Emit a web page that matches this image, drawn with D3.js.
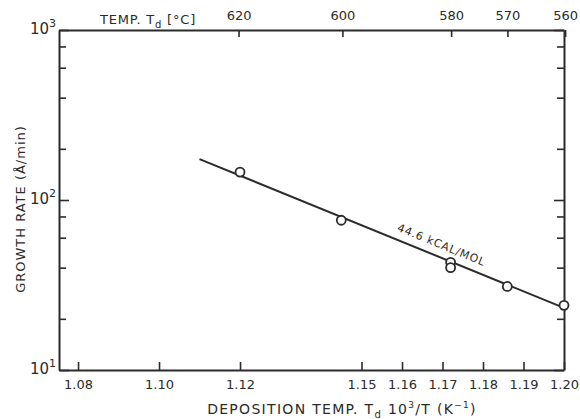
<!DOCTYPE html>
<html>
<head>
<meta charset="utf-8">
<script src="https://cdn.jsdelivr.net/npm/d3@7/dist/d3.min.js"></script>
<style>
  html, body { margin: 0; padding: 0; background: #fff; }
  svg { display: block; }
  text { font-family: "DejaVu Sans", sans-serif; fill: #2b2b2b; }
  .domain { stroke: #2b2b2b; stroke-width: 2; }
  .tick line { stroke: #2b2b2b; stroke-width: 1.6; }
</style>
</head>
<body>
<svg id="chart" width="580" height="419"></svg>
<script>
// Reciprocal deposition temperature, 10^3/T (K^-1)
const invTemp = [1.12, 1.145, 1.172, 1.172, 1.186, 1.2];
// Growth rate (Å/min)
const growthRate = [146, 76, 43, 40, 31, 24];
// Arrhenius fit line end points
const fitInvTemp = [1.11, 1.20];
const fitRate = [174, 23.2];
const fitLabel = "44.6 kCAL/MOL";
// Axis ticks
const bottomTicks = [1.08, 1.10, 1.12, 1.15, 1.16, 1.17, 1.18, 1.19, 1.20];
const topTicksC = [620, 600, 580, 570, 560];
const majorRate = [10, 100, 1000];
const minorRate = [20, 40, 60, 80, 200, 400, 600, 800];

const svg = d3.select("#chart");
const mLeft = 59, mRight = 564, mTop = 30, mBottom = 370;

const x = d3.scaleLinear().domain([1.0753, 1.2]).range([mLeft, mRight]);
const y = d3.scaleLog().domain([10, 1000]).range([mBottom, mTop]);

// bottom axis (ticks point inward)
const gB = svg.append("g").attr("transform", `translate(0,${mBottom})`)
  .call(d3.axisBottom(x).tickValues(bottomTicks).tickSize(-8).tickSizeOuter(0)
    .tickPadding(10).tickFormat(d3.format(".2f")));
gB.selectAll("text").attr("font-size", 13);

// top axis in °C
const gT = svg.append("g").attr("transform", `translate(0,${mTop})`)
  .call(d3.axisTop(x).tickValues(topTicksC.map(c => 1000 / (c + 273.15)))
    .tickSize(-7).tickSizeOuter(0).tickPadding(10)
    .tickFormat((d, i) => topTicksC[i]));
gT.selectAll("text").attr("font-size", 13);

// left and right log axes: major and minor ticks, labels drawn separately
[[d3.axisLeft, mLeft], [d3.axisRight, mRight]].forEach(([ax, px]) => {
  svg.append("g").attr("transform", `translate(${px},0)`)
    .call(ax(y).tickValues(majorRate).tickSize(-10).tickSizeOuter(0).tickFormat(""));
  svg.append("g").attr("transform", `translate(${px},0)`)
    .call(ax(y).tickValues(minorRate).tickSize(-7).tickSizeOuter(0).tickFormat(""))
    .select(".domain").remove();
});

// decade labels 10^n
majorRate.forEach(v => {
  const t = svg.append("text").attr("x", mLeft - 3).attr("y", y(v) + 4)
    .attr("text-anchor", "end").attr("font-size", 15);
  t.append("tspan").text("10");
  t.append("tspan").attr("dy", -7).attr("font-size", 11).text(Math.round(Math.log10(v)));
});

// fit line
svg.append("line")
  .attr("x1", x(fitInvTemp[0])).attr("y1", y(fitRate[0]))
  .attr("x2", x(fitInvTemp[1])).attr("y2", y(fitRate[1]))
  .attr("stroke", "#2b2b2b").attr("stroke-width", 2);

// measured points
svg.append("g").selectAll("circle")
  .data(invTemp.map((t, i) => [t, growthRate[i]]))
  .join("circle")
  .attr("cx", d => x(d[0])).attr("cy", d => y(d[1])).attr("r", 4.5)
  .attr("fill", "#fff").attr("stroke", "#2b2b2b").attr("stroke-width", 1.8);

// activation energy label along the fit line
const ang = Math.atan2(y(fitRate[1]) - y(fitRate[0]), x(fitInvTemp[1]) - x(fitInvTemp[0])) * 180 / Math.PI;
const lx = 440;
const lt = (x.invert(lx) - fitInvTemp[0]) / (fitInvTemp[1] - fitInvTemp[0]);
const ly = y(fitRate[0]) + lt * (y(fitRate[1]) - y(fitRate[0]));
svg.append("text")
  .attr("transform", `translate(${lx},${ly - 9}) rotate(${ang})`)
  .attr("text-anchor", "middle").attr("font-size", 11).attr("letter-spacing", 0.8)
  .text(fitLabel);

// axis titles
const topTitle = svg.append("text").attr("x", 100).attr("y", 24).attr("font-size", 13)
  .attr("letter-spacing", 0.8);
topTitle.append("tspan").text("TEMP.  T");
topTitle.append("tspan").attr("dy", 4).attr("font-size", 10).text("d");
topTitle.append("tspan").attr("dy", -4).text(" [°C]");

const xTitle = svg.append("text").attr("x", 342).attr("y", 414).attr("text-anchor", "middle")
  .attr("font-size", 14).attr("letter-spacing", 1.3);
xTitle.append("tspan").text("DEPOSITION  TEMP.  T");
xTitle.append("tspan").attr("dy", 4).attr("font-size", 10).text("d");
xTitle.append("tspan").attr("dy", -4).text("  10");
xTitle.append("tspan").attr("dy", -6).attr("font-size", 9).text("3");
xTitle.append("tspan").attr("dy", 6).text("/T  (K");
xTitle.append("tspan").attr("dy", -6).attr("font-size", 9).text("−1");
xTitle.append("tspan").attr("dy", 6).text(")");

svg.append("text").attr("transform", `translate(25,${209}) rotate(-90)`)
  .attr("text-anchor", "middle").attr("font-size", 13).attr("letter-spacing", 1)
  .text("GROWTH  RATE  (Å/min)");
</script>
</body>
</html>
